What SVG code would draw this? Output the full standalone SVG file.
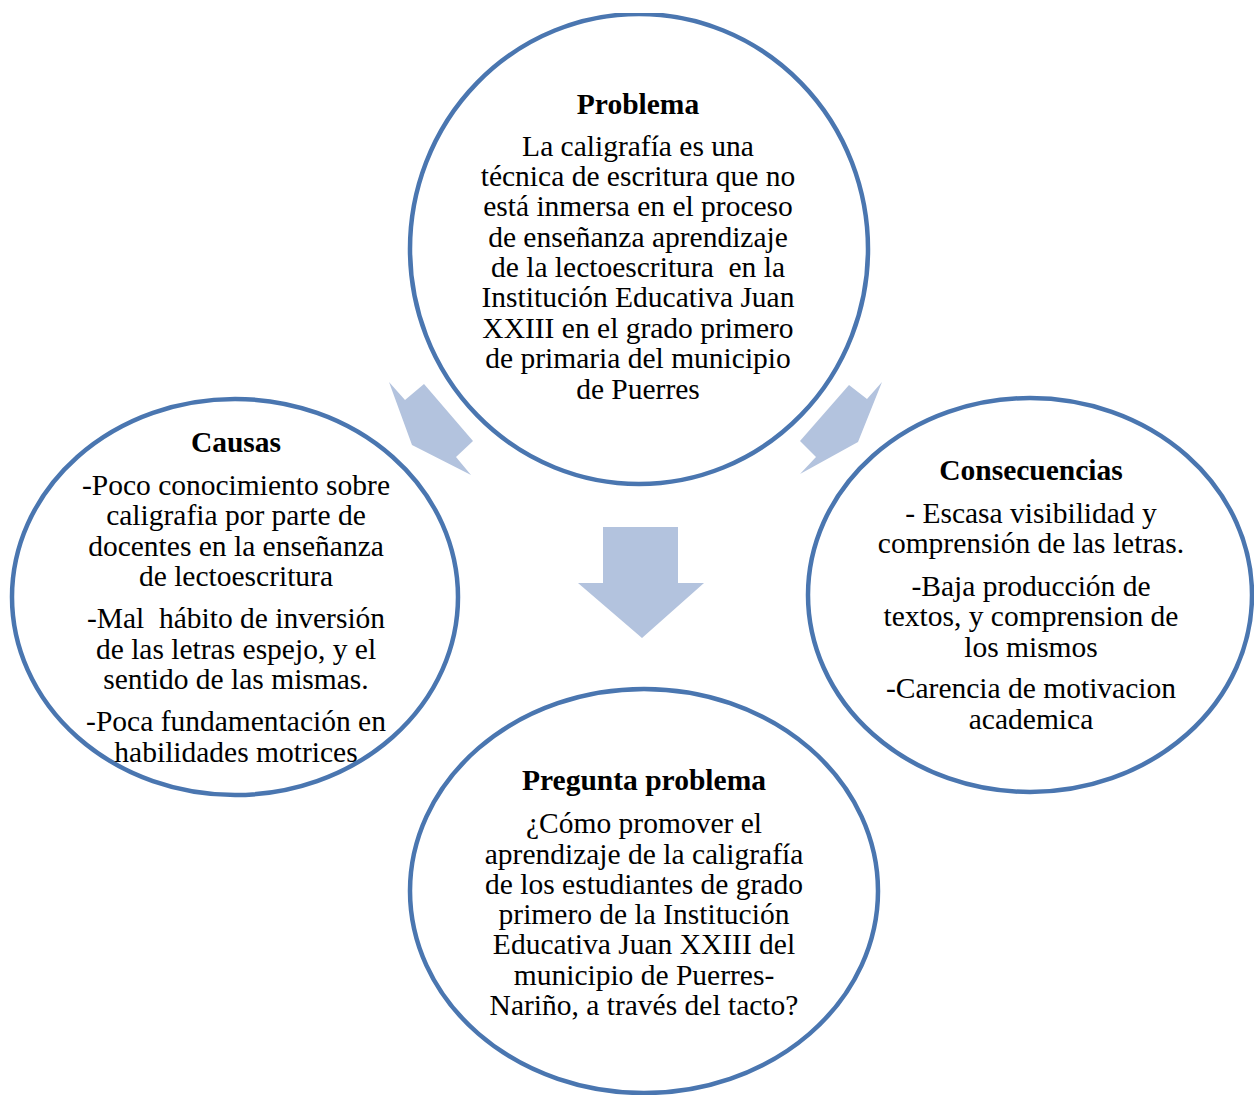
<svg xmlns="http://www.w3.org/2000/svg" width="1254" height="1095" viewBox="0 0 1254 1095">
<style>
.c{fill:#ffffff;stroke:#4a76b0;stroke-width:4.5}
.a{fill:#b3c3de;stroke:none}
text{font-family:"Liberation Serif","Times New Roman",serif;font-size:29.5px;fill:#000;text-anchor:middle;white-space:pre}
.h{font-weight:bold}
</style>
<rect width="1254" height="1095" fill="#ffffff"/>
<defs><clipPath id="clip"><rect x="0" y="13" width="1254" height="1082"/></clipPath></defs>
<g id="connectors">
<polygon class="a" points="389,382 405,400 424,384 473,441 456,457 471,475 412,445"/>
<polygon class="a" points="849,385 867,399 882,382 858,442 800,474 816,457 800,441"/>
<polygon class="a" points="603,527 678,527 678,583 704,583 642,638 578,583 603,583"/>
</g>
<g id="problema" clip-path="url(#clip)">
<ellipse class="c" cx="639" cy="249" rx="229" ry="235"/>
<text class="h" x="638" y="114">Problema</text>
<text x="638" y="156">La caligrafía es una</text>
<text x="638" y="186">técnica de escritura que no</text>
<text x="638" y="216">está inmersa en el proceso</text>
<text x="638" y="247">de enseñanza aprendizaje</text>
<text x="638" y="277">de la lectoescritura  en la</text>
<text x="638" y="307">Institución Educativa Juan</text>
<text x="638" y="338">XXIII en el grado primero</text>
<text x="638" y="368">de primaria del municipio</text>
<text x="638" y="399">de Puerres</text>
</g>
<g id="causas">
<ellipse class="c" cx="235" cy="597" rx="223" ry="198"/>
<text class="h" x="236" y="452">Causas</text>
<text x="236" y="495">-Poco conocimiento sobre</text>
<text x="236" y="525">caligrafia por parte de</text>
<text x="236" y="556">docentes en la enseñanza</text>
<text x="236" y="586">de lectoescritura</text>
<text x="236" y="628">-Mal  hábito de inversión</text>
<text x="236" y="659">de las letras espejo, y el</text>
<text x="236" y="689">sentido de las mismas.</text>
<text x="236" y="731">-Poca fundamentación en</text>
<text x="236" y="762">habilidades motrices</text>
</g>
<g id="consecuencias">
<ellipse class="c" cx="1030" cy="595" rx="222" ry="197"/>
<text class="h" x="1031" y="480">Consecuencias</text>
<text x="1031" y="523">- Escasa visibilidad y</text>
<text x="1031" y="553">comprensión de las letras.</text>
<text x="1031" y="596">-Baja producción de</text>
<text x="1031" y="626">textos, y comprension de</text>
<text x="1031" y="657">los mismos</text>
<text x="1031" y="698">-Carencia de motivacion</text>
<text x="1031" y="729">academica</text>
</g>
<g id="pregunta">
<ellipse class="c" cx="644" cy="891" rx="234" ry="202"/>
<text class="h" x="644" y="790">Pregunta problema</text>
<text x="644" y="833">¿Cómo promover el</text>
<text x="644" y="864">aprendizaje de la caligrafía</text>
<text x="644" y="894">de los estudiantes de grado</text>
<text x="644" y="924">primero de la Institución</text>
<text x="644" y="954">Educativa Juan XXIII del</text>
<text x="644" y="985">municipio de Puerres-</text>
<text x="644" y="1015">Nariño, a través del tacto?</text>
</g>
</svg>
